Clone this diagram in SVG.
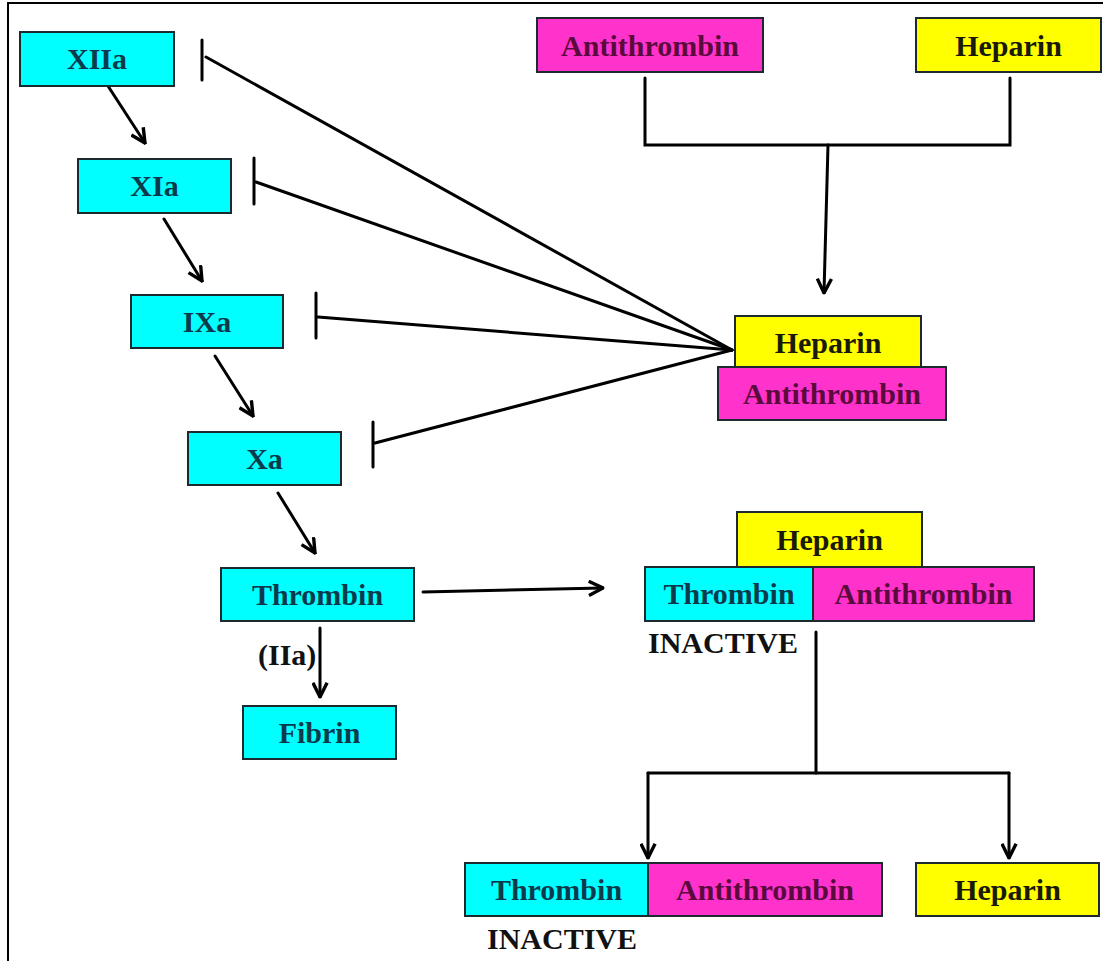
<svg xmlns="http://www.w3.org/2000/svg" width="1103" height="961" viewBox="0 0 1103 961">
<style>
  .box { stroke: #1c2a30; stroke-width: 2; }
  .c { fill: #00ffff; }
  .m { fill: #ff33cc; }
  .y { fill: #ffff00; }
  text { font-family: "Liberation Serif", "Times New Roman", serif; font-weight: bold; font-size: 30px; }
  .tc { fill: #0b3a4c; text-anchor: middle; }
  .tm { fill: #5a0a3c; text-anchor: middle; }
  .ty { fill: #1a1a08; text-anchor: middle; }
  .lbl { fill: #111111; }
  .ln { stroke: #000; stroke-width: 3; fill: none; stroke-linecap: round; stroke-linejoin: miter; }
</style>
<defs>
  <marker id="arr" viewBox="0 0 12 12" refX="11" refY="6" markerWidth="17" markerHeight="17" markerUnits="userSpaceOnUse" orient="auto">
    <path d="M1,1 L11,6 L1,11" fill="none" stroke="#000" stroke-width="2.4" stroke-linejoin="miter"/>
  </marker>
</defs>
<rect x="0" y="0" width="1103" height="961" fill="#ffffff"/>
<rect x="8" y="3" width="1110" height="1000" fill="none" stroke="#000" stroke-width="2"/>

<g id="connectors">
  <!-- cascade arrows -->
  <path class="ln" d="M108,86 L145,143" marker-end="url(#arr)"/>
  <path class="ln" d="M164,219 L202,281" marker-end="url(#arr)"/>
  <path class="ln" d="M215,356 L253,416" marker-end="url(#arr)"/>
  <path class="ln" d="M278,493 L315,553" marker-end="url(#arr)"/>
  <path class="ln" d="M320,628 L320,697" marker-end="url(#arr)"/>
  <path class="ln" d="M423,592 L603,588" marker-end="url(#arr)"/>
  <!-- top bracket -->
  <path class="ln" d="M645,78 L645,145 L1010,145 L1010,78"/>
  <path class="ln" d="M828,145 L824,293" marker-end="url(#arr)"/>
  <!-- inhibition lines -->
  <path class="ln" d="M732,350 L206,57"/>
  <path class="ln" d="M202,40 L202,80"/>
  <path class="ln" d="M732,350 L256,182"/>
  <path class="ln" d="M254,158 L254,204"/>
  <path class="ln" d="M732,350 L318,317"/>
  <path class="ln" d="M316,293 L316,338"/>
  <path class="ln" d="M732,350 L375,443"/>
  <path class="ln" d="M373,422 L373,467"/>
  <!-- lower bracket -->
  <path class="ln" d="M816,632 L816,773"/>
  <path class="ln" d="M648,773 L1009,773"/>
  <path class="ln" d="M648,773 L648,858" marker-end="url(#arr)"/>
  <path class="ln" d="M1009,773 L1009,858" marker-end="url(#arr)"/>
</g>

<g id="node-XIIa">
  <rect class="box c" x="20" y="32" width="154" height="54"/>
  <text class="tc" x="97" y="69">XIIa</text>
</g>
<g id="node-XIa">
  <rect class="box c" x="78" y="159" width="153" height="54"/>
  <text class="tc" x="154.5" y="196">XIa</text>
</g>
<g id="node-IXa">
  <rect class="box c" x="131" y="295" width="152" height="53"/>
  <text class="tc" x="207" y="332">IXa</text>
</g>
<g id="node-Xa">
  <rect class="box c" x="188" y="432" width="153" height="53"/>
  <text class="tc" x="264.5" y="469">Xa</text>
</g>
<g id="node-Thrombin">
  <rect class="box c" x="221" y="568" width="193" height="53"/>
  <text class="tc" x="317.5" y="605">Thrombin</text>
</g>
<g id="label-IIa">
  <text class="lbl" x="258" y="665">(IIa)</text>
</g>
<g id="node-Fibrin">
  <rect class="box c" x="243" y="706" width="153" height="53"/>
  <text class="tc" x="319.5" y="743">Fibrin</text>
</g>
<g id="node-Antithrombin-top">
  <rect class="box m" x="537" y="18" width="226" height="54"/>
  <text class="tm" x="650" y="56">Antithrombin</text>
</g>
<g id="node-Heparin-top">
  <rect class="box y" x="916" y="18" width="185" height="54"/>
  <text class="ty" x="1008.5" y="56">Heparin</text>
</g>
<g id="node-HeparinAntithrombin">
  <rect class="box y" x="735" y="316" width="186" height="52"/>
  <text class="ty" x="828" y="353">Heparin</text>
  <rect class="box m" x="718" y="367" width="228" height="53"/>
  <text class="tm" x="832" y="404">Antithrombin</text>
</g>
<g id="node-Complex">
  <rect class="box y" x="737" y="512" width="185" height="55"/>
  <text class="ty" x="829.5" y="550">Heparin</text>
  <rect class="box c" x="645" y="567" width="168" height="54"/>
  <text class="tc" x="729" y="604">Thrombin</text>
  <rect class="box m" x="813" y="567" width="221" height="54"/>
  <text class="tm" x="923.5" y="604">Antithrombin</text>
  <text class="lbl" x="648" y="653">INACTIVE</text>
</g>
<g id="node-ThrombinAntithrombin">
  <rect class="box c" x="465" y="863" width="183" height="53"/>
  <text class="tc" x="556.5" y="900">Thrombin</text>
  <rect class="box m" x="648" y="863" width="234" height="53"/>
  <text class="tm" x="765" y="900">Antithrombin</text>
  <text class="lbl" x="487" y="949">INACTIVE</text>
</g>
<g id="node-Heparin-free">
  <rect class="box y" x="916" y="863" width="183" height="53"/>
  <text class="ty" x="1007.5" y="900">Heparin</text>
</g>
</svg>
